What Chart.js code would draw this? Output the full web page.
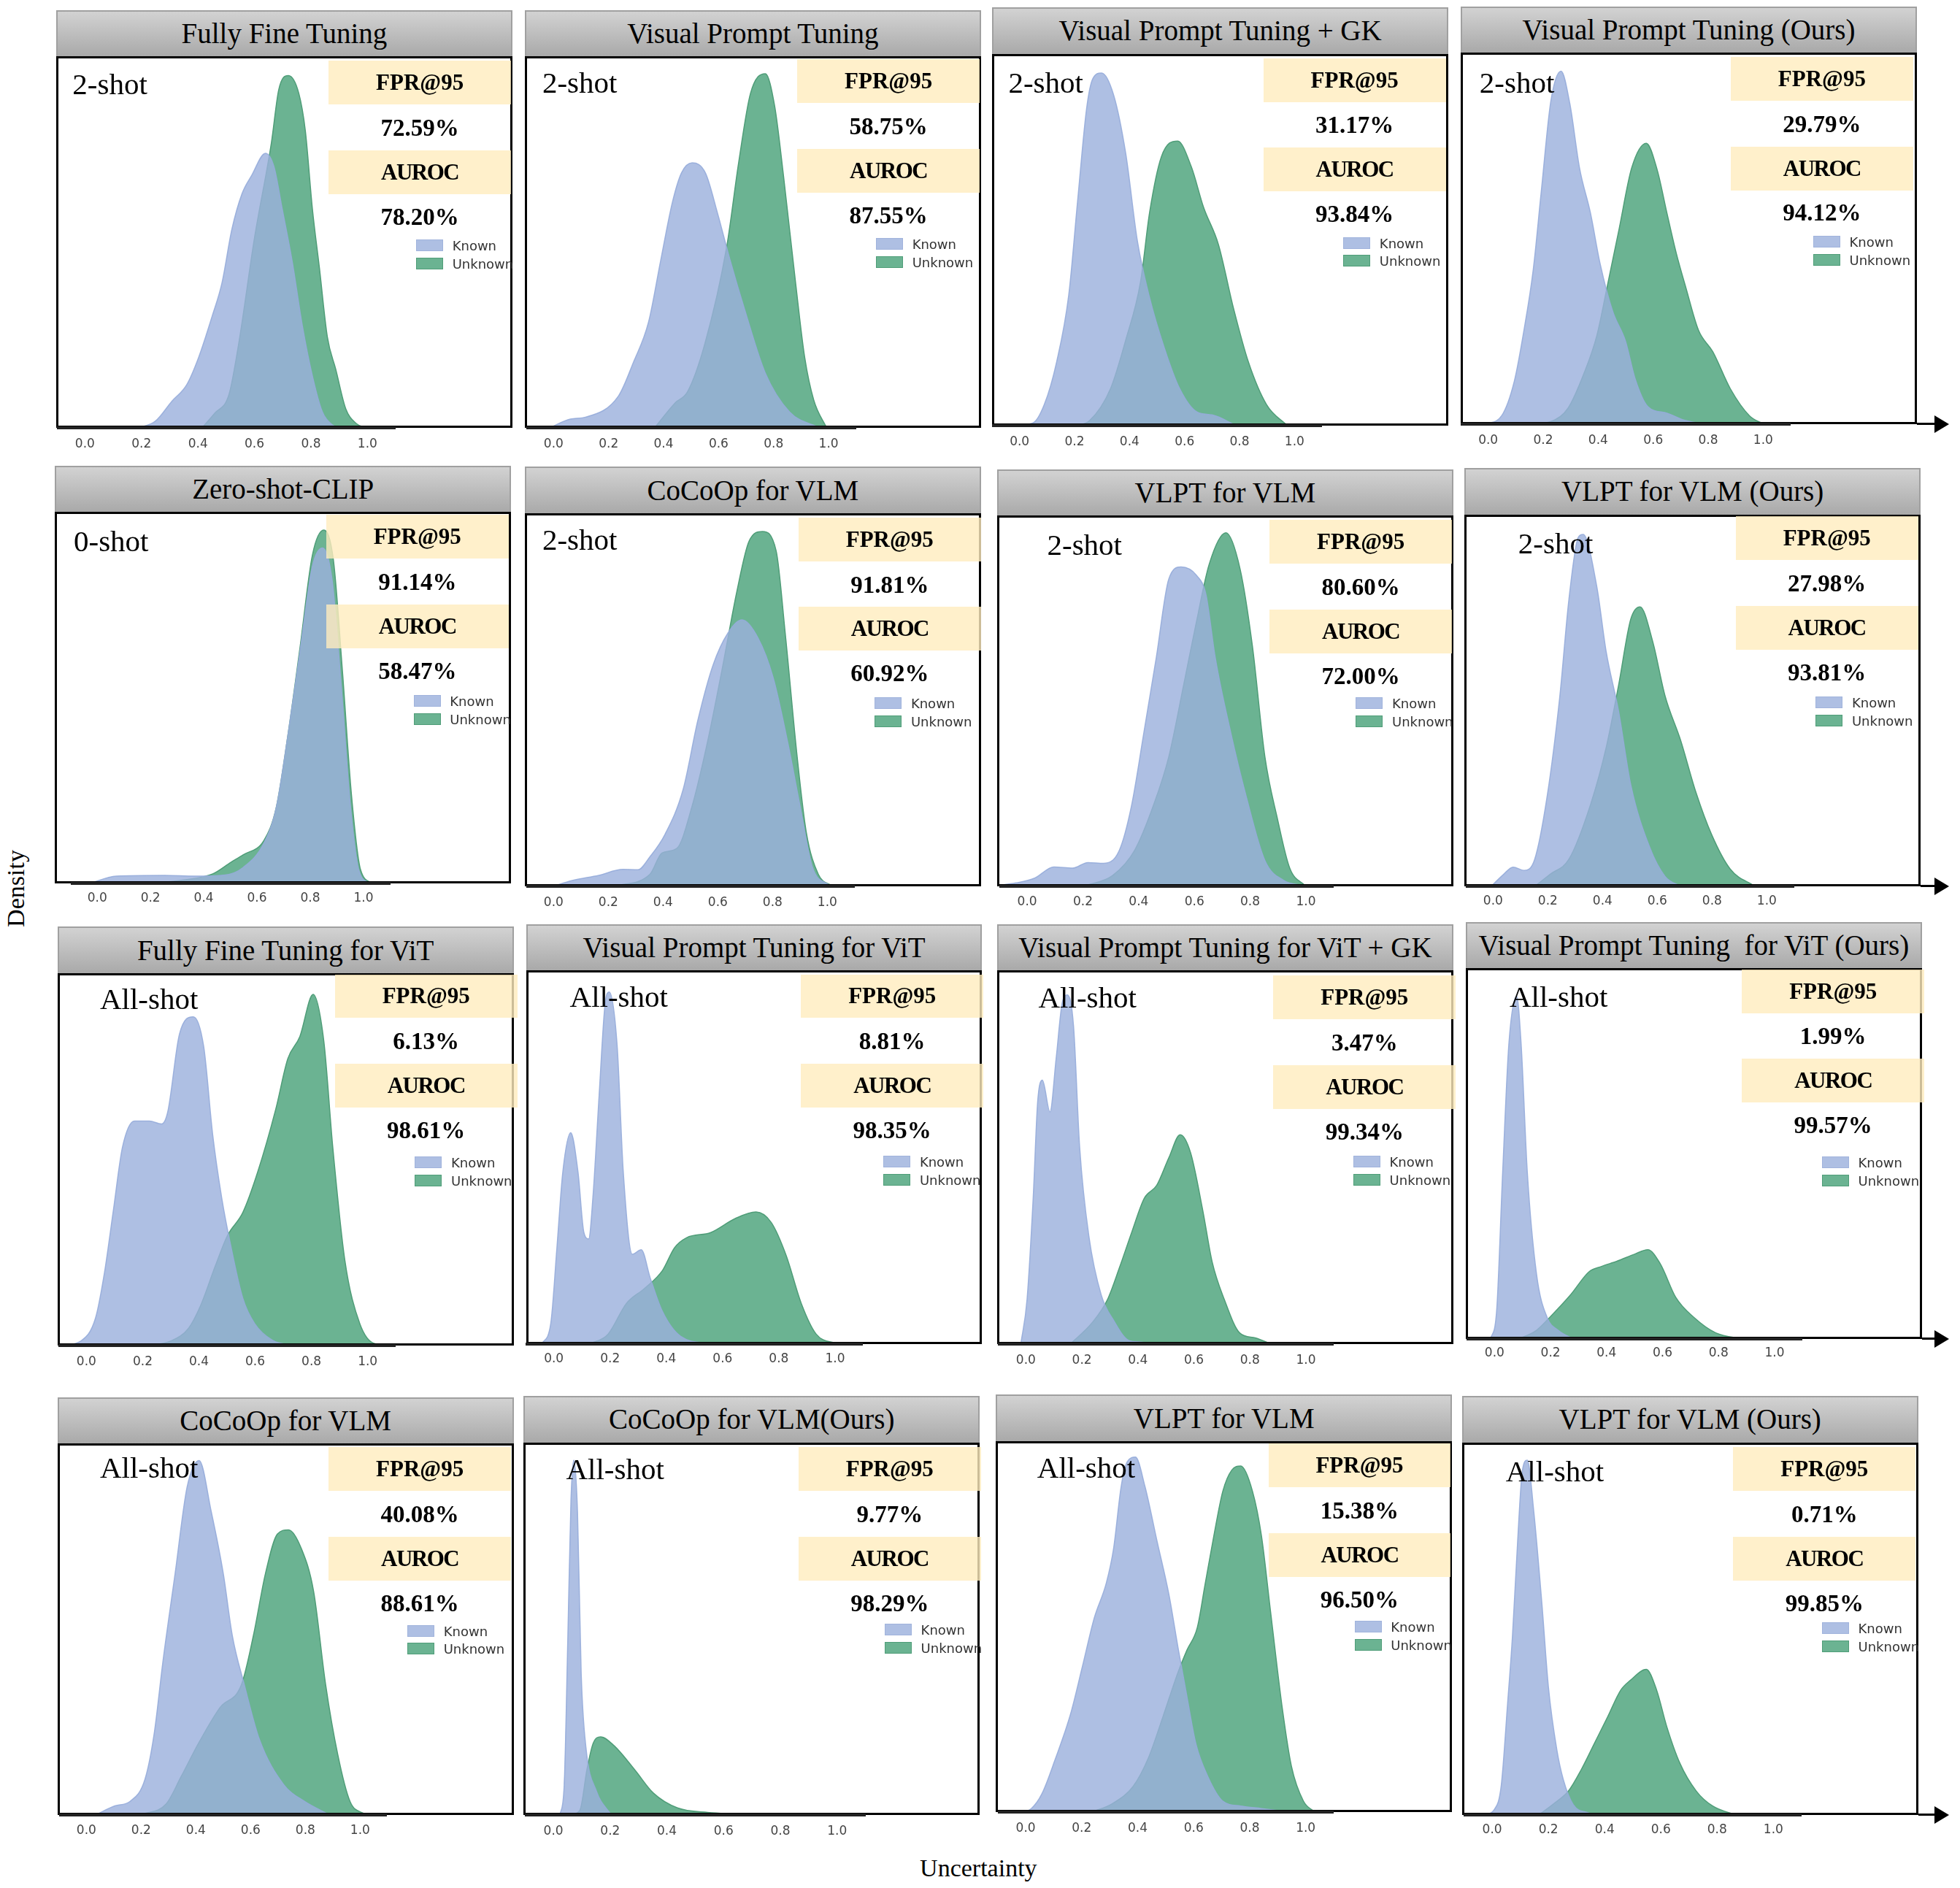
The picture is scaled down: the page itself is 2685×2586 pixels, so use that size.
<!DOCTYPE html>
<html>
<head>
<meta charset="utf-8">
<title>Uncertainty density</title>
<script src="https://cdn.jsdelivr.net/npm/chart.js@4"></script>
<style>
  html, body { margin: 0; padding: 0; background: #fff; }
  #page { position: relative; width: 2685px; height: 2586px; overflow: hidden; font-family: "Liberation Serif", serif; color: #000; }
  #page > * { position: absolute; }
  .title { box-sizing: border-box; display: flex; align-items: center; justify-content: center; white-space: pre; font-size: 39px; padding-bottom: 2px; border: 2px solid #a0a0a0; border-bottom: none; background: linear-gradient(#d2d2d2, #a9a9a9); }
  .frame { box-sizing: border-box; border: 3px solid #000; }
  .box { display: flex; align-items: center; justify-content: center; font-size: 31px; font-weight: bold; background: rgba(255, 236, 190, 0.8); }
  .value { transform: translate(-50%, -50%); font-size: 33px; font-weight: bold; }
  .shot { transform: translateY(-50%); font-size: 41px; white-space: nowrap; }
  .swatch { box-sizing: border-box; width: 37px; height: 16px; }
  .legend { transform: translateY(-50%); font-family: "DejaVu Sans", sans-serif; font-size: 18px; color: #333; white-space: nowrap; }
  .axis-line { height: 4px; background: #222; }
  .head { width: 0; height: 0; border-top: 12px solid transparent; border-bottom: 12px solid transparent; border-left: 20px solid #000; }
  .axis-label { font-size: 34px; white-space: nowrap; transform: translate(-50%, -50%); }
</style>
</head>
<body>
<div id="page"></div>
<script>
"use strict";

let titles = [
  "Fully Fine Tuning", "Visual Prompt Tuning", "Visual Prompt Tuning + GK", "Visual Prompt Tuning (Ours)",
  "Zero-shot-CLIP", "CoCoOp for VLM", "VLPT for VLM", "VLPT for VLM (Ours)",
  "Fully Fine Tuning for ViT", "Visual Prompt Tuning for ViT", "Visual Prompt Tuning for ViT + GK", "Visual Prompt Tuning  for ViT (Ours)",
  "CoCoOp for VLM", "CoCoOp for VLM(Ours)", "VLPT for VLM", "VLPT for VLM (Ours)",
];
let shots = [
  "2-shot", "2-shot", "2-shot", "2-shot",
  "0-shot", "2-shot", "2-shot", "2-shot",
  "All-shot", "All-shot", "All-shot", "All-shot",
  "All-shot", "All-shot", "All-shot", "All-shot",
];
let fprValues = [
  "72.59%", "58.75%", "31.17%", "29.79%",
  "91.14%", "91.81%", "80.60%", "27.98%",
  "6.13%", "8.81%", "3.47%", "1.99%",
  "40.08%", "9.77%", "15.38%", "0.71%",
];
let aurocValues = [
  "78.20%", "87.55%", "93.84%", "94.12%",
  "58.47%", "60.92%", "72.00%", "93.81%",
  "98.61%", "98.35%", "99.34%", "99.57%",
  "88.61%", "98.29%", "96.50%", "99.85%",
];
let xTicks = [0, 0.2, 0.4, 0.6, 0.8, 1];

// [uncertainty, density]
let known1 = [[0.19,0],[0.249,0.018],[0.308,0.072],[0.36,0.116],[0.402,0.189],[0.45,0.3],[0.485,0.39],[0.52,0.534],[0.556,0.63],[0.59,0.679],[0.639,0.739],[0.669,0.703],[0.698,0.59],[0.734,0.446],[0.769,0.277],[0.805,0.14],[0.84,0.044],[0.876,0.008],[0.9,0]];
let unknown1 = [[0.414,0],[0.46,0.04],[0.51,0.09],[0.545,0.23],[0.6,0.51],[0.66,0.767],[0.686,0.91],[0.72,0.948],[0.757,0.9],[0.78,0.8],[0.805,0.59],[0.83,0.43],[0.858,0.245],[0.888,0.157],[0.923,0.052],[0.96,0.012],[0.994,0]];
let known2 = [[-0.015,0],[0.061,0.024],[0.116,0.029],[0.236,0.086],[0.29,0.176],[0.345,0.284],[0.389,0.449],[0.432,0.607],[0.465,0.686],[0.504,0.713],[0.552,0.686],[0.596,0.578],[0.64,0.456],[0.694,0.32],[0.77,0.147],[0.858,0.043],[0.967,0]];
let unknown2 = [[0.367,0],[0.443,0.068],[0.487,0.097],[0.55,0.226],[0.629,0.485],[0.673,0.714],[0.716,0.9],[0.77,0.953],[0.804,0.865],[0.836,0.678],[0.88,0.39],[0.913,0.19],[0.946,0.075],[0.993,0]];
let known3 = [[-0.028,0],[0.048,0.007],[0.09,0.057],[0.135,0.172],[0.179,0.352],[0.211,0.603],[0.244,0.854],[0.266,0.933],[0.298,0.949],[0.342,0.89],[0.386,0.733],[0.429,0.495],[0.473,0.344],[0.527,0.208],[0.582,0.1],[0.647,0.036],[0.7,0.029],[0.789,0]];
let unknown3 = [[0.2,0],[0.255,0.014],[0.331,0.1],[0.386,0.23],[0.44,0.387],[0.473,0.574],[0.516,0.724],[0.575,0.766],[0.625,0.696],[0.669,0.588],[0.723,0.488],[0.778,0.316],[0.832,0.172],[0.898,0.057],[0.974,0]];
let known4 = [[-0.01,0],[0.049,0.023],[0.095,0.116],[0.13,0.2525],[0.164,0.417],[0.193,0.626],[0.228,0.87],[0.265,0.95],[0.297,0.862],[0.332,0.69],[0.372,0.568],[0.407,0.432],[0.453,0.303],[0.499,0.224],[0.534,0.123],[0.58,0.048],[0.65,0.03],[0.708,0.012],[0.788,0]];
let unknown4 = [[0.164,0],[0.234,0.009],[0.291,0.044],[0.349,0.138],[0.395,0.238],[0.436,0.382],[0.476,0.525],[0.522,0.69],[0.575,0.756],[0.615,0.683],[0.65,0.568],[0.684,0.46],[0.719,0.367],[0.765,0.2525],[0.817,0.195],[0.881,0.095],[0.95,0.023],[1.002,0]];
let known5 = [[-0.03,0],[0.072,0.02],[0.253,0.022],[0.367,0.02],[0.48,0.023],[0.548,0.043],[0.627,0.11],[0.672,0.203],[0.717,0.403],[0.762,0.627],[0.808,0.853],[0.846,0.903],[0.882,0.817],[0.916,0.535],[0.95,0.215],[0.982,0.037],[1.023,0]];
let unknown5 = [[0.208,0],[0.321,0.009],[0.434,0.026],[0.502,0.057],[0.548,0.077],[0.627,0.117],[0.672,0.203],[0.717,0.403],[0.762,0.637],[0.808,0.883],[0.851,0.951],[0.887,0.87],[0.921,0.57],[0.955,0.237],[0.989,0.037],[1.034,0]];
let known6 = [[0,0],[0.066,0.015],[0.165,0.029],[0.253,0.045],[0.308,0.044],[0.352,0.079],[0.407,0.139],[0.473,0.259],[0.527,0.445],[0.582,0.592],[0.637,0.679],[0.688,0.714],[0.747,0.665],[0.802,0.559],[0.857,0.379],[0.901,0.212],[0.945,0.052],[1.011,0]];
let unknown6 = [[0.22,0],[0.352,0.032],[0.396,0.089],[0.451,0.102],[0.505,0.212],[0.56,0.379],[0.615,0.579],[0.67,0.792],[0.714,0.925],[0.763,0.951],[0.813,0.899],[0.846,0.679],[0.89,0.345],[0.923,0.145],[0.967,0.032],[1.018,0]];
let known7 = [[-0.116,0],[-0.04,0.008],[0.027,0.021],[0.096,0.051],[0.163,0.048],[0.218,0.063],[0.274,0.061],[0.33,0.095],[0.374,0.215],[0.419,0.415],[0.463,0.615],[0.508,0.828],[0.552,0.861],[0.608,0.838],[0.641,0.788],[0.675,0.615],[0.73,0.415],[0.786,0.241],[0.853,0.068],[0.92,0.015],[0.998,0]];
let unknown7 = [[0.207,0],[0.307,0.028],[0.385,0.095],[0.452,0.215],[0.508,0.348],[0.563,0.548],[0.608,0.715],[0.653,0.868],[0.713,0.953],[0.764,0.855],[0.808,0.648],[0.853,0.348],[0.898,0.181],[0.942,0.048],[0.998,0]];
let known8 = [[-0.007,0],[0.039,0.033],[0.073,0.052],[0.113,0.043],[0.152,0.073],[0.197,0.24],[0.243,0.506],[0.277,0.772],[0.311,0.939],[0.329,0.947],[0.379,0.806],[0.413,0.632],[0.458,0.473],[0.503,0.273],[0.571,0.107],[0.628,0.027],[0.685,0]];
let unknown8 = [[0.152,0],[0.209,0.033],[0.277,0.073],[0.356,0.22],[0.413,0.373],[0.458,0.539],[0.503,0.719],[0.537,0.752],[0.583,0.659],[0.628,0.513],[0.685,0.393],[0.741,0.253],[0.798,0.14],[0.866,0.047],[0.957,0]];
let known9 = [[-0.085,0],[-0.02,0.012],[0.032,0.073],[0.064,0.195],[0.096,0.364],[0.128,0.532],[0.171,0.603],[0.224,0.603],[0.267,0.595],[0.289,0.627],[0.331,0.837],[0.38,0.883],[0.417,0.803],[0.449,0.566],[0.481,0.397],[0.513,0.269],[0.556,0.127],[0.598,0.059],[0.662,0.014],[0.748,0]];
let unknown9 = [[0.214,0],[0.299,0.012],[0.363,0.046],[0.406,0.107],[0.459,0.215],[0.502,0.296],[0.556,0.357],[0.609,0.466],[0.673,0.634],[0.716,0.77],[0.759,0.83],[0.806,0.943],[0.844,0.818],[0.876,0.532],[0.919,0.228],[0.972,0.059],[1.026,0.005],[1.1,0]];
let known10 = [[-0.043,0],[-0.011,0.054],[0.011,0.257],[0.032,0.46],[0.06,0.565],[0.086,0.46],[0.107,0.298],[0.124,0.281],[0.139,0.392],[0.161,0.664],[0.182,0.908],[0.197,0.942],[0.225,0.8],[0.247,0.46],[0.279,0.24],[0.311,0.252],[0.343,0.176],[0.386,0.087],[0.451,0.02],[0.558,0]];
let unknown10 = [[0.129,0],[0.193,0.026],[0.258,0.108],[0.322,0.148],[0.386,0.196],[0.429,0.257],[0.472,0.284],[0.558,0.298],[0.644,0.335],[0.719,0.353],[0.773,0.325],[0.826,0.237],[0.88,0.108],[0.933,0.026],[1.009,0]];
let known11 = [[-0.018,0],[0.004,0.118],[0.026,0.39],[0.042,0.648],[0.059,0.706],[0.086,0.621],[0.108,0.764],[0.13,0.914],[0.148,0.934],[0.17,0.852],[0.192,0.526],[0.225,0.288],[0.269,0.131],[0.313,0.063],[0.368,0.009],[0.412,0.005],[0.445,0]];
let unknown11 = [[0.159,0],[0.236,0.056],[0.291,0.118],[0.335,0.206],[0.379,0.301],[0.423,0.39],[0.467,0.424],[0.511,0.499],[0.551,0.56],[0.588,0.512],[0.632,0.356],[0.665,0.22],[0.709,0.118],[0.764,0.029],[0.819,0.016],[0.874,0]];
let known12 = [[-0.015,0],[0.007,0.072],[0.029,0.45],[0.051,0.794],[0.079,0.924],[0.095,0.794],[0.117,0.45],[0.15,0.175],[0.188,0.058],[0.227,0.024],[0.283,0]];
let unknown12 = [[0.084,0],[0.15,0.024],[0.205,0.065],[0.272,0.12],[0.338,0.182],[0.382,0.196],[0.437,0.21],[0.503,0.23],[0.547,0.241],[0.592,0.203],[0.647,0.113],[0.713,0.058],[0.79,0.017],[0.89,0]];
let known13 = [[0.037,0],[0.104,0.023],[0.159,0.035],[0.214,0.095],[0.247,0.215],[0.28,0.415],[0.324,0.649],[0.368,0.883],[0.412,0.954],[0.456,0.816],[0.5,0.649],[0.533,0.482],[0.577,0.349],[0.632,0.202],[0.72,0.081],[0.797,0.035],[0.885,0]];
let unknown13 = [[0.203,0],[0.291,0.028],[0.346,0.102],[0.412,0.195],[0.489,0.289],[0.566,0.349],[0.61,0.482],[0.654,0.649],[0.698,0.756],[0.738,0.767],[0.786,0.715],[0.83,0.601],[0.874,0.349],[0.918,0.162],[0.963,0.035],[1.018,0]];
let known14 = [[0.023,0],[0.038,0.079],[0.051,0.479],[0.062,0.846],[0.072,0.953],[0.085,0.813],[0.098,0.379],[0.115,0.179],[0.151,0.065],[0.204,0]];
let unknown14 = [[0.055,0],[0.093,0.012],[0.119,0.125],[0.14,0.192],[0.166,0.21],[0.214,0.186],[0.289,0.119],[0.352,0.059],[0.437,0.019],[0.544,0.007],[0.756,0.002],[0.968,0]];
let known15 = [[-0.01,0],[0.02,0.01],[0.058,0.05],[0.106,0.144],[0.16,0.264],[0.202,0.391],[0.245,0.524],[0.288,0.618],[0.314,0.711],[0.341,0.878],[0.363,0.945],[0.392,0.957],[0.426,0.878],[0.469,0.731],[0.512,0.585],[0.544,0.444],[0.576,0.311],[0.608,0.184],[0.65,0.097],[0.704,0.03],[0.768,0.017],[0.842,0.01],[0.949,0]];
let unknown15 = [[0.234,0],[0.309,0.023],[0.384,0.07],[0.437,0.144],[0.49,0.257],[0.544,0.377],[0.576,0.437],[0.613,0.498],[0.64,0.611],[0.672,0.745],[0.704,0.865],[0.736,0.922],[0.768,0.933],[0.81,0.865],[0.842,0.745],[0.874,0.544],[0.917,0.277],[0.949,0.124],[0.992,0.03],[1.034,0]];
let known16 = [[-0.027,0],[0.008,0.015],[0.032,0.077],[0.055,0.3],[0.072,0.478],[0.09,0.726],[0.107,0.922],[0.125,0.953],[0.148,0.815],[0.177,0.566],[0.2,0.344],[0.23,0.175],[0.253,0.095],[0.288,0.028],[0.341,0.006],[0.387,0]];
let unknown16 = [[0.166,0],[0.224,0.033],[0.271,0.064],[0.317,0.122],[0.364,0.193],[0.411,0.264],[0.457,0.335],[0.492,0.362],[0.548,0.391],[0.585,0.335],[0.621,0.237],[0.667,0.14],[0.726,0.064],[0.784,0.024],[0.866,0]];

let knownCurves = [known1, known2, known3, known4, known5, known6, known7, known8, known9, known10, known11, known12, known13, known14, known15, known16];
let unknownCurves = [unknown1, unknown2, unknown3, unknown4, unknown5, unknown6, unknown7, unknown8, unknown9, unknown10, unknown11, unknown12, unknown13, unknown14, unknown15, unknown16];

// panel layout, measured on a scaled down copy and scaled back up
let sx = 2685 / 1568.5;
let sy = 1.7142;
let frameLeft = [45, 420, 794, 1169, 44, 420, 798, 1172, 46, 421, 798, 1173, 46, 419, 797, 1170];
let frameTop = [45, 45, 43, 42, 409, 410, 412, 411, 777.5, 775.5, 775.5, 773.5, 1153.5, 1152.5, 1151.5, 1152.5];
let frameBottom = [342, 342, 340, 339, 706, 708, 708, 708, 1075, 1074, 1074, 1070, 1450, 1450, 1448, 1450];
let frameWidth = 365;
let titleHeight = 37;
let tickZero = [68, 443, 816, 1191, 78, 443, 822, 1195, 69, 443, 821, 1196, 69, 443, 821, 1194];
let tickOne = [294, 663, 1036, 1411, 291, 662, 1045, 1414, 294, 668, 1045, 1420, 288, 670, 1045, 1419];
let tickY = [355, 355, 353, 352, 718, 721, 721, 720, 1088, 1086, 1087, 1081, 1463, 1463, 1461, 1462];
let boxLeft = [263, 638, 1011, 1385, 261, 639, 1016, 1389, 268, 641, 1019, 1394, 263, 639, 1015, 1387];
let boxY = [66, 65, 64, 63, 429, 431, 433, 430, 796, 796, 797, 792, 1174, 1174, 1171, 1174];
let legendX = [333, 701, 1075, 1451, 331, 700, 1085, 1453, 332, 707, 1083, 1458, 326, 708, 1084, 1458];
let legendY = [196, 195, 194, 193, 560, 562, 562, 561, 929, 928, 928, 929, 1303, 1302, 1300, 1301];
let shotX = [58, 434, 807, 1184, 59, 434, 838, 1215, 80, 456, 831, 1208, 80, 453, 830, 1205];
let shotY = [67, 66, 66, 66, 432, 431, 435, 434, 798, 796, 797, 796, 1172.5, 1173.5, 1172.5, 1175.5];

let knownFill = "rgba(155, 176, 220, 0.81)";
let unknownFill = "rgb(107, 179, 146)";

let page = document.getElementById("page");

function addDiv(className, left, top, text) {
  let div = document.createElement("div");
  div.className = className;
  div.style.left = left + "px";
  div.style.top = top + "px";
  if (text !== undefined) {
    div.textContent = text;
  }
  page.appendChild(div);
  return div;
}

function drawChart(i) {
  let left = frameLeft[i] * sx;
  let top = frameTop[i] * sy;
  let width = frameWidth * sx;
  let height = (frameBottom[i] - frameTop[i]) * sy;
  let tickGap = (tickY[i] - frameBottom[i]) * sy;
  let unit = (tickOne[i] - tickZero[i]) * sx;

  let canvas = document.createElement("canvas");
  canvas.width = Math.round(width);
  canvas.height = Math.round(height + 50);
  canvas.style.left = left + "px";
  canvas.style.top = top + "px";
  page.appendChild(canvas);

  new Chart(canvas, {
    type: "line",
    data: {
      datasets: [
        { label: "Known", data: knownCurves[i], backgroundColor: knownFill, borderColor: "rgba(150, 172, 218, 0.9)" },
        { label: "Unknown", data: unknownCurves[i], backgroundColor: unknownFill, borderColor: "#4f9d78" },
      ],
    },
    options: {
      responsive: false,
      animation: false,
      devicePixelRatio: 1,
      layout: { padding: 0 },
      plugins: { legend: { display: false }, tooltip: { enabled: false } },
      datasets: { line: { fill: "origin", pointRadius: 0, borderWidth: 1.5, cubicInterpolationMode: "monotone" } },
      scales: {
        x: {
          type: "linear",
          min: (frameLeft[i] - tickZero[i]) * sx / unit,
          max: (frameLeft[i] + frameWidth - tickZero[i]) * sx / unit,
          grid: { display: false },
          border: { display: false },
          afterBuildTicks: function (scale) {
            scale.ticks = xTicks.map(function (v) { return { value: v }; });
          },
          afterFit: function (scale) {
            scale.height = canvas.height - height;
          },
          ticks: {
            autoSkip: false,
            maxRotation: 0,
            padding: tickGap - 18,
            color: "#444",
            font: { family: "DejaVu Sans", size: 17 },
            callback: function (value) { return Number(value).toFixed(1); },
          },
        },
        y: { display: false, min: 0, max: 1 },
      },
    },
  });
}

function drawPanel(i) {
  let left = frameLeft[i] * sx;
  let top = frameTop[i] * sy;
  let width = frameWidth * sx;
  let height = (frameBottom[i] - frameTop[i]) * sy;

  let title = addDiv("title", left, (frameTop[i] - titleHeight) * sy, titles[i]);
  title.style.width = width + "px";
  title.style.height = titleHeight * sy + "px";

  drawChart(i);

  let frame = addDiv("frame", left, top);
  frame.style.width = width + "px";
  frame.style.height = height + "px";

  let unit = tickOne[i] - tickZero[i];
  let axisLine = addDiv("axis-line", (tickZero[i] - 0.1 * unit) * sx, frameBottom[i] * sy - 2);
  axisLine.style.width = 1.2 * unit * sx + "px";

  let boxX = boxLeft[i] * sx;
  let boxWidth = 146 * sx;
  let boxHeight = 35 * sy;
  let centerX = boxX + boxWidth / 2;
  let fprBox = addDiv("box", boxX, (boxY[i] - 17.5) * sy, "FPR@95");
  fprBox.style.width = boxWidth + "px";
  fprBox.style.height = boxHeight + "px";
  let aurocBox = addDiv("box", boxX, (boxY[i] + 54) * sy, "AUROC");
  aurocBox.style.width = boxWidth + "px";
  aurocBox.style.height = boxHeight + "px";
  aurocBox.style.letterSpacing = "-1.5px";
  addDiv("value", centerX, (boxY[i] + 36) * sy, fprValues[i]);
  addDiv("value", centerX, (boxY[i] + 107) * sy, aurocValues[i]);

  addDiv("shot", shotX[i] * sx, shotY[i] * sy, shots[i]);

  let knownSwatch = addDiv("swatch", legendX[i] * sx, legendY[i] * sy - 8);
  knownSwatch.style.background = "#aebfe3";
  knownSwatch.style.border = "1px solid #a0b3dc";
  addDiv("legend", (legendX[i] + 29) * sx, legendY[i] * sy, "Known");
  let unknownSwatch = addDiv("swatch", legendX[i] * sx, (legendY[i] + 14.5) * sy - 8);
  unknownSwatch.style.background = "#6bb392";
  unknownSwatch.style.border = "1px solid #4f9d78";
  addDiv("legend", (legendX[i] + 29) * sx, (legendY[i] + 14.5) * sy, "Unknown");

  // the right hand column carries the axis arrow
  if (i % 4 === 3) {
    let arrowEnd = 1560 * sx;
    let line = addDiv("axis-line", left + width, frameBottom[i] * sy - 2);
    line.style.width = arrowEnd - 20 - left - width + "px";
    line.style.height = "3px";
    line.style.background = "#000";
    addDiv("head", arrowEnd - 20, frameBottom[i] * sy - 12);
  }
}

for (let i = 0; i < titles.length; i++) {
  drawPanel(i);
}

let density = addDiv("axis-label", 13 * sx, 710 * sy, "Density");
density.style.transform = "translate(-50%, -50%) rotate(-90deg)";
addDiv("axis-label", 783 * sx, 1493 * sy, "Uncertainty");
</script>
</body>
</html>
